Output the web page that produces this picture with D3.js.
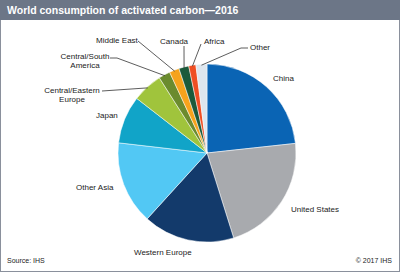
<!DOCTYPE html>
<html>
<head>
<meta charset="utf-8">
<script src="https://d3js.org/d3.v7.min.js"></script>
<style>
  body { margin: 0; background: #fff; }
  text { font-family: "Liberation Sans", Arial, sans-serif; }
</style>
</head>
<body>
<div id="chart"></div>
<script>
var svgWidth = 400;
var svgHeight = 272;

// data (share of world consumption, %)
var regions = ["China", "United States", "Western Europe", "Other Asia", "Japan",
  "Central/Eastern Europe", "Central/South America", "Middle East", "Canada", "Africa", "Other"];
var shares = [23.3, 21.9, 16.6, 15.1, 8.7, 5.5, 2.1, 1.8, 1.8, 1.3, 2.0];
var colors = ["#0a64b4", "#a8aaae", "#133a6b", "#52c8f4", "#11a4c8",
  "#a0c43c", "#6b8b2e", "#f6a31c", "#1c5a3b", "#ef4f24", "#dde6ee"];

// label layout: text lines, position, and optional leader start points
var labelLayout = [
  { lines: ["China"], x: 273, y: 81, anchor: "start" },
  { lines: ["United States"], x: 291, y: 212, anchor: "start" },
  { lines: ["Western Europe"], x: 134, y: 255, anchor: "start" },
  { lines: ["Other Asia"], x: 76, y: 190, anchor: "start" },
  { lines: ["Japan"], x: 96, y: 118, anchor: "start" },
  { lines: ["Central/Eastern", "Europe"], x: 72, y: 93, anchor: "middle", leader: [[102, 91]] },
  { lines: ["Central/South", "America"], x: 85, y: 59, anchor: "middle", leader: [[110, 58], [117, 58]] },
  { lines: ["Middle East"], x: 96, y: 43, anchor: "start", leader: [[138, 41]] },
  { lines: ["Canada"], x: 160, y: 44, anchor: "start", leader: [[184, 46]] },
  { lines: ["Africa"], x: 204, y: 44, anchor: "start", leader: [[201, 44]] },
  { lines: ["Other"], x: 250, y: 50, anchor: "start", leader: [[248, 48], [241, 48]] }
];

var data = regions.map(function(r, i) {
  return { region: r, share: shares[i], color: colors[i], label: labelLayout[i] };
});

var svg = d3.select("#chart")
  .append("svg")
  .attr("width", svgWidth)
  .attr("height", svgHeight);

// frame + header band
svg.append("rect")
  .attr("x", 0.5).attr("y", 0.5)
  .attr("width", svgWidth - 1).attr("height", svgHeight - 1)
  .attr("fill", "#fff")
  .attr("stroke", "#8a909c");

svg.append("rect")
  .attr("x", 0).attr("y", 0)
  .attr("width", svgWidth).attr("height", 20)
  .attr("fill", "#6c7687");

svg.append("text")
  .attr("x", 7).attr("y", 14)
  .attr("fill", "#fff")
  .attr("font-size", "10.5px")
  .attr("font-weight", "bold")
  .text("World consumption of activated carbon\u20142016");

var cx = 207, cy = 153, radius = 89;

var pie = d3.pie()
  .sort(null)
  .value(function(d) { return d.share; });

var arc = d3.arc().innerRadius(0).outerRadius(radius);

var pieGroup = svg.append("g")
  .attr("transform", `translate(${cx}, ${cy})`);

var arcs = pie(data);

pieGroup.selectAll("path")
  .data(arcs)
  .enter()
  .append("path")
  .attr("d", arc)
  .attr("fill", function(d) { return d.data.color; })
  .attr("stroke", "#fff")
  .attr("stroke-width", 0.5);

// leader lines for the small slices
var leaderArcs = arcs.filter(function(d) { return d.data.label.leader; });
svg.selectAll("polyline.leader")
  .data(leaderArcs)
  .enter()
  .append("polyline")
  .attr("class", "leader")
  .attr("fill", "none")
  .attr("stroke", "#333")
  .attr("stroke-width", 0.8)
  .attr("points", function(d) {
    var a = (d.startAngle + d.endAngle) / 2;
    var end = [cx + (radius - 1) * Math.sin(a), cy - (radius - 1) * Math.cos(a)];
    return d.data.label.leader.concat([end]).map(function(p) { return p.join(","); }).join(" ");
  });

// labels
var labels = svg.selectAll("text.lbl")
  .data(data)
  .enter()
  .append("text")
  .attr("class", "lbl")
  .attr("x", function(d) { return d.label.x; })
  .attr("y", function(d) { return d.label.y; })
  .attr("text-anchor", function(d) { return d.label.anchor; })
  .attr("font-size", "8px")
  .attr("fill", "#222");

labels.selectAll("tspan")
  .data(function(d) { return d.label.lines.map(function(l) { return { t: l, x: d.label.x }; }); })
  .enter()
  .append("tspan")
  .attr("x", function(d) { return d.x; })
  .attr("dy", function(d, i) { return i === 0 ? 0 : 9; })
  .text(function(d) { return d.t; });

// footer
svg.append("text")
  .attr("x", 7).attr("y", 263)
  .attr("font-size", "7px")
  .attr("fill", "#222")
  .text("Source:  IHS");

svg.append("text")
  .attr("x", 392).attr("y", 263)
  .attr("text-anchor", "end")
  .attr("font-size", "7px")
  .attr("fill", "#222")
  .text("\u00a9 2017  IHS");
</script>
</body>
</html>
